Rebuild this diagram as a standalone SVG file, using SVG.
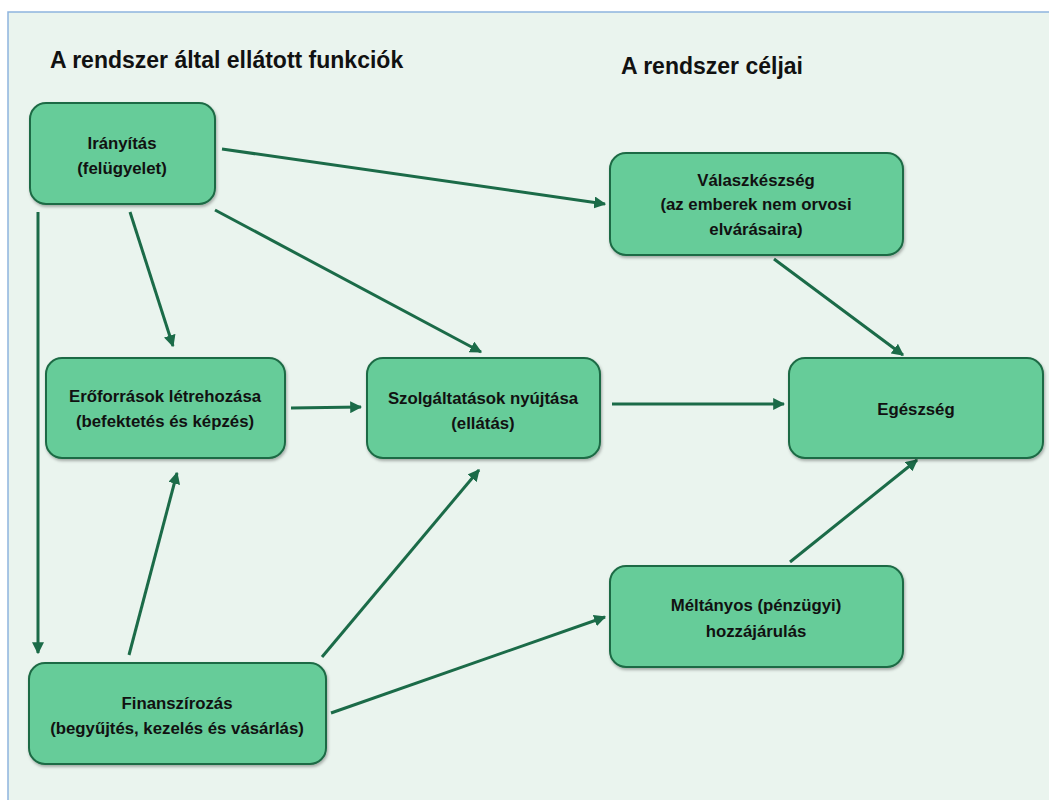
<svg xmlns="http://www.w3.org/2000/svg" width="1049" height="800" viewBox="0 0 1049 800">
<defs>
<marker id="ah" viewBox="0 0 10 10" refX="9" refY="5" markerWidth="4" markerHeight="4" orient="auto" markerUnits="strokeWidth">
<path d="M0,0 L10,5 L0,10 z" fill="#1b6b48"/>
</marker>
<filter id="sh" x="-10%" y="-10%" width="120%" height="130%">
<feDropShadow dx="1" dy="2" stdDeviation="1.5" flood-color="#000" flood-opacity="0.3"/>
</filter>
</defs>
<style>
.box{fill:#66cc99;stroke:#1e6b45;stroke-width:2;filter:url(#sh)}
.t{font-family:"Liberation Sans",Arial,sans-serif;font-weight:bold;font-size:16.8px;fill:#111;text-anchor:middle}
.h{font-family:"Liberation Sans",Arial,sans-serif;font-weight:bold;font-size:23px;fill:#111}
.c{stroke:#1b6b48;stroke-width:3;fill:none;marker-end:url(#ah)}
</style>
<rect x="0" y="0" width="1049" height="800" fill="#ffffff"/>
<rect x="8" y="12" width="1050" height="800" fill="#eaf4ee" stroke="#8fb4de" stroke-width="1.5"/>
<text class="h" x="50" y="68">A rendszer által ellátott funkciók</text>
<text class="h" x="621" y="74">A rendszer céljai</text>
<g id="connectors">
<line class="c" x1="222" y1="149" x2="605" y2="204"/>
<line class="c" x1="215" y1="210" x2="481" y2="352"/>
<line class="c" x1="130" y1="212" x2="173" y2="346"/>
<line class="c" x1="38" y1="212" x2="38" y2="653"/>
<line class="c" x1="291" y1="408" x2="361" y2="407"/>
<line class="c" x1="612" y1="404" x2="784" y2="404"/>
<line class="c" x1="774" y1="259" x2="903" y2="355"/>
<line class="c" x1="790" y1="562" x2="917" y2="460"/>
<line class="c" x1="129" y1="655" x2="177" y2="473"/>
<line class="c" x1="322" y1="657" x2="479" y2="470"/>
<line class="c" x1="331" y1="713" x2="605" y2="617"/>
</g>
<g id="iranyitas">
<rect class="box" x="30" y="103" width="185" height="101" rx="16"/>
<text class="t" x="122" y="149">Irányítás</text>
<text class="t" x="122" y="174">(felügyelet)</text>
</g>
<g id="valaszkeszseg">
<rect class="box" x="610" y="153" width="293" height="102" rx="16"/>
<text class="t" x="756" y="186">Válaszkészség</text>
<text class="t" x="756" y="210">(az emberek nem orvosi</text>
<text class="t" x="756" y="235">elvárásaira)</text>
</g>
<g id="eroforrasok">
<rect class="box" x="46" y="358" width="239" height="100" rx="16"/>
<text class="t" x="165" y="402">Erőforrások létrehozása</text>
<text class="t" x="165" y="427">(befektetés és képzés)</text>
</g>
<g id="szolgaltatasok">
<rect class="box" x="367" y="358" width="233" height="100" rx="16"/>
<text class="t" x="483" y="404">Szolgáltatások nyújtása</text>
<text class="t" x="483" y="429">(ellátás)</text>
</g>
<g id="egeszseg">
<rect class="box" x="789" y="358" width="254" height="100" rx="16"/>
<text class="t" x="916" y="415">Egészség</text>
</g>
<g id="meltanyos">
<rect class="box" x="610" y="566" width="293" height="101" rx="16"/>
<text class="t" x="756" y="611">Méltányos (pénzügyi)</text>
<text class="t" x="756" y="637">hozzájárulás</text>
</g>
<g id="finanszirozas">
<rect class="box" x="29" y="663" width="297" height="101" rx="16"/>
<text class="t" x="177" y="709">Finanszírozás</text>
<text class="t" x="177" y="734">(begyűjtés, kezelés és vásárlás)</text>
</g>
</svg>
